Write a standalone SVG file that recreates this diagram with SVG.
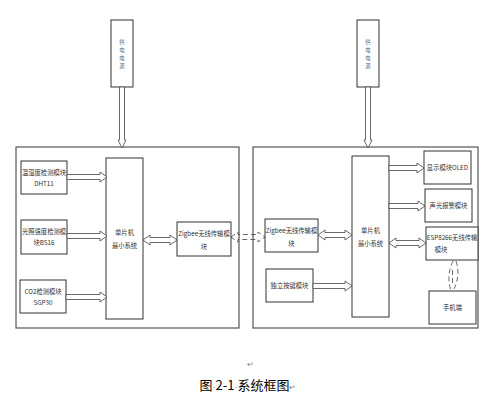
<svg xmlns="http://www.w3.org/2000/svg" width="501" height="410" viewBox="0 0 501 410">
<style>
.box{fill:#fff;stroke:#333;stroke-width:1}
.outer{fill:#fff;stroke:#555;stroke-width:1.2}
.arr{fill:#fff;stroke:#444;stroke-width:0.8;stroke-linejoin:miter}
.dash{fill:none;stroke:#444;stroke-width:0.8;stroke-dasharray:5,3}
.t{font-family:"Noto Sans CJK SC","Liberation Sans",sans-serif;font-size:6.3px;fill:#333}
.tv{font-family:"Noto Sans CJK SC","Liberation Sans",sans-serif;font-size:5.4px;fill:#667}
.cap{font-family:"Noto Sans CJK SC",sans-serif;font-size:13px;fill:#000}
.mk{font-family:"Liberation Sans",sans-serif;fill:#888}
</style>
<rect width="501" height="410" fill="#fff"/>
<g id="outer-left"><rect class="outer" x="16" y="147" width="223" height="181"/></g>
<g id="outer-right"><rect class="outer" x="253" y="147" width="225" height="181"/></g>
<g id="power-left"><rect class="box" x="111" y="20" width="22" height="67"/>
<text class="tv" text-anchor="middle"><tspan x="122" y="44">供</tspan><tspan x="122" y="52">电</tspan><tspan x="122" y="60">电</tspan><tspan x="122" y="68">源</tspan></text></g>
<g id="power-right"><rect class="box" x="357" y="20" width="22" height="67"/>
<text class="tv" text-anchor="middle"><tspan x="368" y="44">供</tspan><tspan x="368" y="52">电</tspan><tspan x="368" y="60">电</tspan><tspan x="368" y="68">源</tspan></text></g>
<g id="dht11"><rect class="box" x="21" y="161" width="46" height="33"/>
<text class="t" text-anchor="middle"><tspan x="44" y="175">温湿度检测模块</tspan><tspan x="44" y="186">DHT11</tspan></text></g>
<g id="light"><rect class="box" x="21" y="220" width="46" height="34"/>
<text class="t" text-anchor="middle"><tspan x="44" y="234">光照强度检测模</tspan><tspan x="44" y="245">块BS16</tspan></text></g>
<g id="co2"><rect class="box" x="20" y="280" width="46" height="33"/>
<text class="t" text-anchor="middle"><tspan x="43" y="294">CO2检测模块</tspan><tspan x="43" y="305">SGP30</tspan></text></g>
<g id="mcu-left"><rect class="box" x="106" y="158" width="37" height="161"/>
<text class="t" text-anchor="middle"><tspan x="124.5" y="235">单片机</tspan><tspan x="124.5" y="248">最小系统</tspan></text></g>
<g id="zigbee-left"><rect class="box" x="177" y="222" width="54" height="34"/>
<text class="t" text-anchor="middle"><tspan x="204" y="236">Zigbee无线传输模</tspan><tspan x="204" y="249">块</tspan></text></g>
<g id="mcu-right"><rect class="box" x="352" y="156" width="37" height="161"/>
<text class="t" text-anchor="middle"><tspan x="370.5" y="233">单片机</tspan><tspan x="370.5" y="246">最小系统</tspan></text></g>
<g id="oled"><rect class="box" x="424" y="151" width="47" height="33"/>
<text class="t" text-anchor="middle"><tspan x="447.5" y="170">显示模块OLED</tspan></text></g>
<g id="alarm"><rect class="box" x="425" y="189" width="47" height="33"/>
<text class="t" text-anchor="middle"><tspan x="448.5" y="208">声光报警模块</tspan></text></g>
<g id="esp"><rect class="box" x="426" y="227" width="52" height="33"/>
<text class="t" text-anchor="middle"><tspan x="452" y="240">ESP8266无线传输</tspan><tspan x="441" y="252">模块</tspan></text></g>
<g id="phone"><rect class="box" x="429" y="291" width="47" height="33"/>
<text class="t" text-anchor="middle"><tspan x="452.5" y="310">手机端</tspan></text></g>
<g id="zigbee-right"><rect class="box" x="265" y="219" width="53" height="33"/>
<text class="t" text-anchor="middle"><tspan x="291.5" y="233">Zigbee无线传输模</tspan><tspan x="291.5" y="246">块</tspan></text></g>
<g id="key"><rect class="box" x="266" y="269" width="47" height="33"/>
<text class="t" text-anchor="middle"><tspan x="289.5" y="288">独立按键模块</tspan></text></g>
<g id="connectors">
<polygon class="arr" points="119.5,87 124.5,87 124.5,140 126,140 122,148 118,140 119.5,140"/>
<polygon class="arr" points="365.5,87 370.5,87 370.5,140 372,140 368,148 364,140 365.5,140"/>
<polygon class="arr" points="67,174.5 100,174.5 100,172 107,177 100,182 100,179.5 67,179.5"/>
<polygon class="arr" points="67,233.5 100,233.5 100,231 107,236 100,241 100,238.5 67,238.5"/>
<polygon class="arr" points="66,294.5 100,294.5 100,292 107,297 100,302 100,299.5 66,299.5"/>
<polygon class="arr" points="143,240 150,235 150,237.5 170,237.5 170,235 177,240 170,245 170,242.5 150,242.5 150,245"/>
<polygon class="arr" points="389,165.5 417,165.5 417,163 424,168 417,173 417,170.5 389,170.5"/>
<polygon class="arr" points="389,203.5 418,203.5 418,201 425,206 418,211 418,208.5 389,208.5"/>
<polygon class="arr" points="389,243 396,238 396,240.5 419,240.5 419,238 426,243 419,248 419,245.5 396,245.5 396,248"/>
<polygon class="arr" points="318,235 325,230 325,232.5 345,232.5 345,230 352,235 345,240 345,237.5 325,237.5 325,240"/>
<polygon class="arr" points="313,283.5 345,283.5 345,281 352,286 345,291 345,288.5 313,288.5"/>
<polygon class="dash" points="231,237 238,232 238,234.5 258,234.5 258,232 265,237 258,242 258,239.5 238,239.5 238,242"/>
<path class="dash" d="M453,261 Q446,275 451,291"/>
<path class="dash" d="M456,261 Q461,276 453,291" stroke-dasharray="4,3"/>
<path class="dash" d="M452.5,270 L452.5,283" stroke-dasharray="3,2"/>
</g>
<text class="mk" x="250" y="367" font-size="8" text-anchor="middle">↵</text>
<text class="cap" x="248" y="390" text-anchor="middle">图<tspan class="mk" font-size="9">·</tspan>2-1<tspan class="mk" font-size="9">·</tspan>系统框图<tspan class="mk" font-size="8">↵</tspan></text>
</svg>
